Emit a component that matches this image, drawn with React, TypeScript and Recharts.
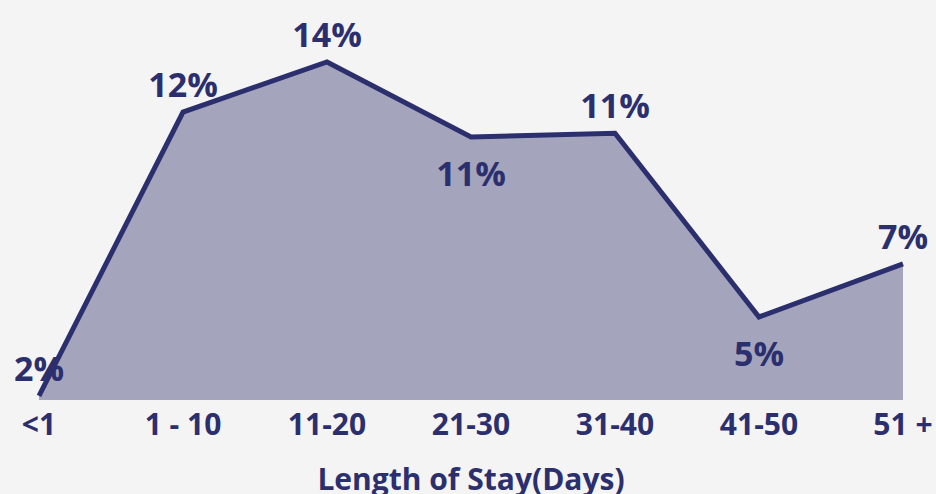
import { AreaChart, Area, XAxis, YAxis, LabelList } from "recharts";

const stayRanges = ["<1", "1 - 10", "11-20", "21-30", "31-40", "41-50", "51 +"];
const sharePct = [1.53, 12.24, 14.13, 11.3, 11.44, 4.51, 6.51];
// label goes below the point for these
const labelBelow = [false, false, false, true, false, true, false];

const NAVY = "#2c2f6e";
const FONT = "'Open Sans', 'Noto Sans', sans-serif";

const chartData = stayRanges.map((range, i) => ({
  range,
  share: sharePct[i],
}));

function PointLabel(props: any) {
  const { x, y, value, index } = props;
  const below = labelBelow[index];
  return (
    <text
      x={x}
      y={below ? y + 49 : y - 15}
      textAnchor="middle"
      fill={NAVY}
      fontSize={34}
      fontWeight={700}
      fontFamily={FONT}
    >
      {Math.round(value)}%
    </text>
  );
}

export default function App() {
  return (
    <div
      style={{
        position: "absolute",
        left: 0,
        top: 0,
        width: 936,
        height: 494,
        background: "#f4f4f4",
      }}
    >
      <AreaChart
        width={936}
        height={494}
        data={chartData}
        margin={{ top: 40, right: 33, bottom: 0, left: 39 }}
      >
        <XAxis
          dataKey="range"
          axisLine={false}
          tickLine={false}
          interval={0}
          height={94}
          tick={{ fill: NAVY, fontSize: 30, fontWeight: 700, fontFamily: FONT }}
          tickMargin={8}
          label={{
            value: "Length of Stay(Days)",
            position: "insideBottom",
            offset: 4,
            fill: NAVY,
            fontSize: 30,
            fontWeight: 700,
            fontFamily: FONT,
          }}
        />
        <YAxis hide domain={[1.375, 14.96]} />
        <Area
          type="linear"
          dataKey="share"
          stroke={NAVY}
          strokeWidth={5}
          fill="#a4a5bd"
          fillOpacity={1}
          dot={false}
          activeDot={false}
          isAnimationActive={false}
        >
          <LabelList dataKey="share" content={<PointLabel />} />
        </Area>
      </AreaChart>
    </div>
  );
}
